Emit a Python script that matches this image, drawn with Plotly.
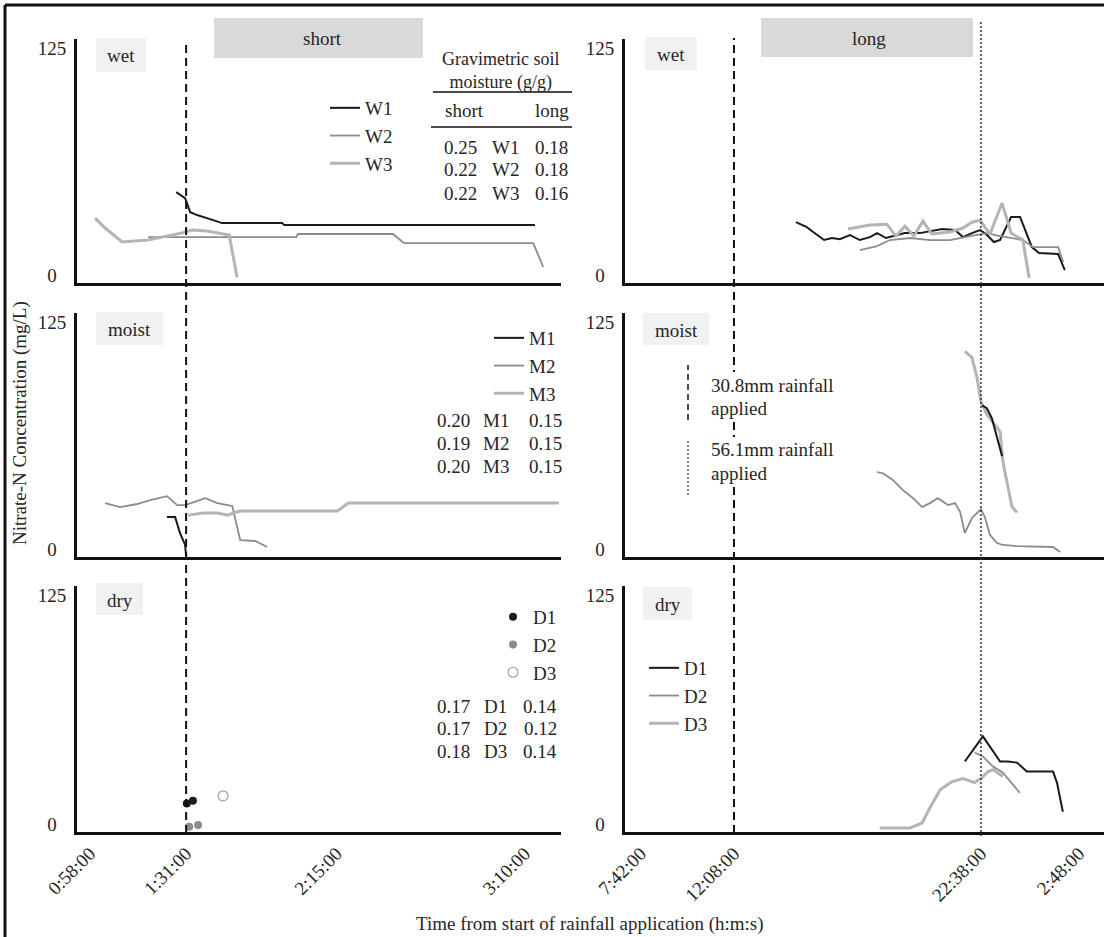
import plotly.graph_objects as go

W, H = 1104, 937
SERIF = "Liberation Serif"
TXT = "#262626"

# ---------------- data: time (minutes from start of rainfall), nitrate-N (mg/L) -------------
# wet soils, short interval
w1_short_t = [88.1, 90.7, 92.2, 94.2, 98.0, 101.5, 119.1, 119.7, 193.0]
w1_short_n = [45.9, 42.6, 34.9, 33.3, 31.1, 28.9, 28.9, 27.8, 27.8]
w2_short_t = [79.9, 123.2, 123.7, 151.5, 154.7, 192.5, 195.4]
w2_short_n = [21.2, 21.2, 22.9, 22.9, 17.9, 17.9, 4.8]
w3_short_t = [64.4, 67.3, 72.3, 79.9, 89.5, 92.8, 97.1, 103.6, 105.9]
w3_short_n = [31.6, 26.2, 18.5, 19.6, 23.4, 25.1, 24.5, 22.3, -1.0]
# wet soils, long interval
w1_long_t = [886, 914, 930, 958, 978, 998, 1024, 1049, 1075, 1093, 1116, 1139, 1164, 1202, 1228,
             1259, 1292, 1312, 1335, 1356, 1371, 1391, 1407, 1435, 1458, 1488, 1506, 1555, 1572]
w1_long_n = [29.4, 26.7, 24.0, 19.6, 20.7, 20.1, 22.3, 19.6, 21.2, 23.4, 20.7, 21.8, 23.4, 23.4, 24.5,
             25.6, 25.1, 21.2, 23.4, 25.1, 22.9, 18.5, 19.6, 32.2, 32.2, 15.7, 12.5, 11.9, 3.1]
w2_long_t = [1049, 1093, 1126, 1177, 1228, 1279, 1330, 1373, 1407, 1465, 1491, 1555, 1568]
w2_long_n = [14.1, 16.3, 19.6, 20.7, 19.6, 19.6, 21.8, 23.4, 21.8, 19.6, 15.7, 15.7, 7.5]
w3_long_t = [1019, 1075, 1118, 1141, 1164, 1187, 1210, 1233, 1279, 1312, 1335, 1356, 1381, 1412,
             1435, 1465, 1481]
w3_long_n = [25.6, 27.8, 28.3, 21.8, 27.2, 21.8, 30.0, 22.9, 24.0, 26.2, 29.4, 30.5, 22.9, 39.9,
             23.4, 19.6, -1.3]
# moist soils, short interval
m1_short_t = [85.4, 87.8, 89.2, 90.7, 91.0]
m1_short_n = [17.9, 17.9, 9.2, 2.6, -3.5]
m2_short_t = [67.3, 71.7, 76.7, 80.5, 85.4, 88.4, 90.7, 93.6, 96.6, 100.1, 104.5, 106.8, 111.2, 114.7]
m2_short_n = [25.6, 23.4, 25.1, 27.2, 29.4, 24.5, 24.5, 26.2, 28.3, 25.6, 24.0, 5.3, 4.8, 1.5]
m3_short_t = [91.6, 96.0, 100.1, 103.3, 104.7, 106.8, 115.6, 135.2, 138.4, 200.0]
m3_short_n = [19.0, 20.1, 20.1, 19.0, 20.1, 21.2, 21.2, 21.2, 25.6, 25.6]
# moist soils, long interval
m1_long_t = [1361, 1373, 1386, 1394, 1402, 1412]
m1_long_n = [79.3, 77.7, 72.2, 65.6, 58.5, 51.4]
m2_long_t = [1093, 1108, 1134, 1159, 1185, 1208, 1228, 1248, 1274, 1292, 1305, 1317, 1335, 1358,
             1368, 1381, 1399, 1414, 1450, 1542, 1560]
m2_long_n = [42.6, 42.0, 38.2, 32.7, 28.3, 23.4, 25.6, 28.3, 24.5, 25.6, 20.7, 9.2, 17.4, 22.3,
             17.9, 8.1, 3.7, 2.6, 2.0, 1.5, -1.3]
m3_long_t = [1317, 1335, 1348, 1358, 1373, 1389, 1407, 1414, 1427, 1437, 1450]
m3_long_n = [108.9, 105.6, 94.6, 81.4, 74.3, 69.9, 64.9, 48.4, 34.1, 23.7, 20.4]
# dry soils, short interval (single samples)
d1_short_t = [91.2, 93.0]
d1_short_n = [11.5, 13.0]
d2_short_t = [91.9, 94.5]
d2_short_n = [-1.2, -0.2]
d3_short_t = [101.8]
d3_short_n = [15.7]
# dry soils, long interval
d1_long_t = [1317, 1363, 1407, 1427, 1450, 1475, 1542, 1552, 1567]
d1_long_n = [34.4, 48.1, 34.4, 34.4, 33.8, 28.9, 28.9, 22.9, 7.0]
d2_long_t = [1342, 1363, 1389, 1414, 1457]
d2_long_n = [39.3, 37.1, 31.6, 28.3, 17.4]
d3_long_t = [1100, 1177, 1208, 1228, 1254, 1284, 1312, 1342, 1361, 1376, 1389, 1414]
d3_long_n = [-1.8, -1.8, 0.9, 9.2, 19.0, 23.4, 25.1, 22.9, 25.6, 28.9, 30.0, 26.2]

# gravimetric soil moisture (g/g)
plots_w = ["W1", "W2", "W3"]
plots_m = ["M1", "M2", "M3"]
plots_d = ["D1", "D2", "D3"]
gsm_short_w = [0.25, 0.22, 0.22]
gsm_long_w = [0.18, 0.18, 0.16]
gsm_short_m = [0.20, 0.19, 0.20]
gsm_long_m = [0.15, 0.15, 0.15]
gsm_short_d = [0.17, 0.17, 0.18]
gsm_long_d = [0.14, 0.12, 0.14]

# axes
short_tick_vals = [62.9, 91, 135, 190]
short_tick_text = ["0:58:00", "1:31:00", "2:15:00", "3:10:00"]
long_tick_vals = [490, 728, 1358, 1608]
long_tick_text = ["7:42:00", "12:08:00", "22:38:00", "2:48:00"]
short_range = [59.1, 200.6]
long_range = [450, 1672]
y_tick_vals = [0, 125]
y_tick_text = ["0\u00a0\u00a0", "125"]
y_range = [-4, 130]
rain_short_t = 91      # 1:31:00  30.8 mm applied
rain_long_t1 = 728     # 12:08:00 30.8 mm applied
rain_long_t2 = 1358    # 22:38:00 56.1 mm applied

# ---------------- helpers ----------------
def px(x):
    return x / W


def py(y):
    return 1 - y / H


S1 = dict(color="#1a1a1a", width=2)
S2 = dict(color="#8c8c8c", width=1.8)
S3 = dict(color="#b4b4b4", width=3)

fig = go.Figure()


def line(t, n, ax, style, name, legend=None):
    fig.add_trace(go.Scatter(
        x=t, y=n, mode="lines", line=style, name=name,
        xaxis="x" if ax == 1 else f"x{ax}", yaxis="y" if ax == 1 else f"y{ax}",
        showlegend=legend is not None, legend=legend or "legend", hoverinfo="skip"))


line(w1_short_t, w1_short_n, 1, S1, "W1", "legend")
line(w2_short_t, w2_short_n, 1, S2, "W2", "legend")
line(w3_short_t, w3_short_n, 1, S3, "W3", "legend")
line(w1_long_t, w1_long_n, 2, S1, "W1")
line(w2_long_t, w2_long_n, 2, S2, "W2")
line(w3_long_t, w3_long_n, 2, S3, "W3")
line(m1_short_t, m1_short_n, 3, S1, "M1", "legend2")
line(m2_short_t, m2_short_n, 3, S2, "M2", "legend2")
line(m3_short_t, m3_short_n, 3, S3, "M3", "legend2")
line(m2_long_t, m2_long_n, 4, S2, "M2")
line(m3_long_t, m3_long_n, 4, S3, "M3")
line(m1_long_t, m1_long_n, 4, S1, "M1")
line(d3_long_t, d3_long_n, 6, S3, "D3", "legend4")
line(d2_long_t, d2_long_n, 6, S2, "D2", "legend4")
line(d1_long_t, d1_long_n, 6, S1, "D1", "legend4")

marker_styles = [
    dict(color="#1a1a1a", size=8, symbol="circle"),
    dict(color="#8c8c8c", size=8, symbol="circle"),
    dict(color="white", size=10, symbol="circle", line=dict(color="#a0a0a0", width=1.2)),
]
for nm, t, n, ms in zip(plots_d, [d1_short_t, d2_short_t, d3_short_t],
                        [d1_short_n, d2_short_n, d3_short_n], marker_styles):
    fig.add_trace(go.Scatter(x=t, y=n, mode="markers", marker=ms, name=nm,
                             xaxis="x5", yaxis="y5", legend="legend3",
                             cliponaxis=False, hoverinfo="skip"))

# ---------------- layout ----------------
xL = [77 / W, 561 / W]
xR = [625 / W, 1.0]
yT = [py(283), py(39)]
yM = [py(557), py(313)]
yB = [py(832), py(586)]

tick_font = dict(family=SERIF, size=19, color=TXT)
base = dict(showline=True, linewidth=3, linecolor="#111111", showgrid=False,
            zeroline=False, ticks="", fixedrange=True, automargin=False)


def xax(dom, rng, anchor, labels):
    d = dict(base, domain=dom, range=rng, anchor=anchor)
    if labels is None:
        d["showticklabels"] = False
    else:
        d.update(tickmode="array", tickvals=labels[0], ticktext=labels[1],
                 tickangle=-45, tickfont=tick_font)
    return d


def yax(dom, anchor):
    return dict(base, domain=dom, range=y_range, anchor=anchor, tickmode="array",
                tickvals=y_tick_vals, ticktext=y_tick_text, tickfont=tick_font,
                ticklabelstandoff=4)


legend_base = dict(bgcolor="rgba(0,0,0,0)", font=dict(family=SERIF, size=19, color=TXT),
                   xanchor="left", yanchor="top", itemclick=False, itemdoubleclick=False,
                   traceorder="normal")

fig.update_layout(
    width=W, height=H, margin=dict(l=0, r=0, t=0, b=0, pad=0, autoexpand=False),
    paper_bgcolor="white", plot_bgcolor="white",
    font=dict(family=SERIF, size=19, color=TXT),
    xaxis=xax(xL, short_range, "y", None), yaxis=yax(yT, "x"),
    xaxis2=xax(xR, long_range, "y2", None), yaxis2=yax(yT, "x2"),
    xaxis3=xax(xL, short_range, "y3", None), yaxis3=yax(yM, "x3"),
    xaxis4=xax(xR, long_range, "y4", None), yaxis4=yax(yM, "x4"),
    xaxis5=xax(xL, short_range, "y5", (short_tick_vals, short_tick_text)), yaxis5=yax(yB, "x5"),
    xaxis6=xax(xR, long_range, "y6", (long_tick_vals, long_tick_text)), yaxis6=yax(yB, "x6"),
    legend=dict(legend_base, x=px(325), y=py(89)),
    legend2=dict(legend_base, x=px(489), y=py(319)),
    legend3=dict(legend_base, x=px(493), y=py(598)),
    legend4=dict(legend_base, x=px(644), y=py(649), traceorder="reversed"),
    showlegend=True,
)

shapes = []
annotations = []


def box(x0, y0, x1, y1, fill, layer="below"):
    shapes.append(dict(type="rect", xref="paper", yref="paper", x0=px(x0), x1=px(x1),
                       y0=py(y1), y1=py(y0), fillcolor=fill, line=dict(width=0), layer=layer))


def text(x, y, s, xanchor="center", size=19):
    annotations.append(dict(xref="paper", yref="paper", x=px(x), y=py(y), text=s,
                            showarrow=False, xanchor=xanchor, yanchor="middle",
                            font=dict(family=SERIF, size=size, color=TXT)))


def hline(x0, x1, y, w=1.5):
    shapes.append(dict(type="line", xref="paper", yref="paper", x0=px(x0), x1=px(x1),
                       y0=py(y), y1=py(y), line=dict(color="#111111", width=w)))


# outer frame (top and left edges)
hline(5, W, 5, 3)
shapes.append(dict(type="line", xref="paper", yref="paper", x0=px(5), x1=px(5), y0=py(5), y1=0,
                   line=dict(color="#111111", width=3)))

# rainfall timing lines
DASH = "8px,5px"
DOT = "2px,2px"
shapes.append(dict(type="line", xref="x", yref="paper", x0=rain_short_t, x1=rain_short_t,
                   y0=py(833), y1=py(40), line=dict(color="#111111", width=2, dash=DASH)))
shapes.append(dict(type="line", xref="x2", yref="paper", x0=rain_long_t1, x1=rain_long_t1,
                   y0=py(833), y1=py(38), line=dict(color="#111111", width=2, dash=DASH)))
shapes.append(dict(type="line", xref="x2", yref="paper", x0=rain_long_t2, x1=rain_long_t2,
                   y0=py(836), y1=py(20), line=dict(color="#333333", width=1.5, dash=DOT)))

# header boxes
box(214, 18, 423, 58, "#d9d9d9")
text(322, 38, "short")
box(761, 18, 973, 57, "#d9d9d9")
text(869, 38, "long")

# moisture-class labels
for (x0, y0, x1, y1, s) in [(96, 38, 146, 72, "wet"), (645, 37, 697, 70, "wet"),
                            (96, 312, 163, 345, "moist"), (643, 313, 709, 345, "moist"),
                            (96, 583, 143, 615, "dry"), (643, 587, 692, 620, "dry")]:
    box(x0, y0, x1, y1, "#f1f1f1")
    text((x0 + x1) / 2, (y0 + y1) / 2 + 1, s)

# soil moisture tables
text(500, 71, "Gravimetric soil<br>moisture (g/g)", size=18)
hline(433, 572, 92)
text(443, 110, "short", "left")
text(571, 110, "long", "right")
hline(431, 572, 127)

tables = [
    (plots_w, gsm_short_w, gsm_long_w, [460, 505, 551], [147, 170, 193]),
    (plots_m, gsm_short_m, gsm_long_m, [453, 496, 545], [420, 443, 466]),
    (plots_d, gsm_short_d, gsm_long_d, [453, 495, 540], [706, 728, 751]),
]
for names, s_vals, l_vals, cols, rows in tables:
    for nm, sv, lv, yy in zip(names, s_vals, l_vals, rows):
        text(cols[0], yy, f"{sv:.2f}")
        text(cols[1], yy, nm)
        text(cols[2], yy, f"{lv:.2f}")

# rainfall key (text boxes mask the 12:08 line)
box(702, 372, 838, 420, "white", "above")
box(702, 437, 838, 487, "white", "above")
shapes.append(dict(type="line", xref="paper", yref="paper", x0=px(688), x1=px(688),
                   y0=py(420), y1=py(365), line=dict(color="#111111", width=1.5, dash="6px,4px")))
shapes.append(dict(type="line", xref="paper", yref="paper", x0=px(688), x1=px(688),
                   y0=py(495), y1=py(440), line=dict(color="#333333", width=1.2, dash=DOT)))
text(709, 385, "30.8mm rainfall", "left")
text(709, 408, "applied", "left")
text(709, 450, "56.1mm rainfall", "left")
text(709, 473, "applied", "left")

# axis titles
annotations.append(dict(xref="paper", yref="paper", x=px(20), y=py(423), textangle=-90,
                        xanchor="center", yanchor="middle",
                        text="Nitrate-N Concentration (mg/L)", showarrow=False,
                        font=dict(family=SERIF, size=19, color=TXT)))
text(590, 924, "Time from start of rainfall application (h:m:s)")

fig.update_layout(shapes=shapes, annotations=annotations)
fig.write_html("out.html", config={"displayModeBar": False},
               post_script="document.body.style.margin='0px';document.body.style.overflow='hidden';")
